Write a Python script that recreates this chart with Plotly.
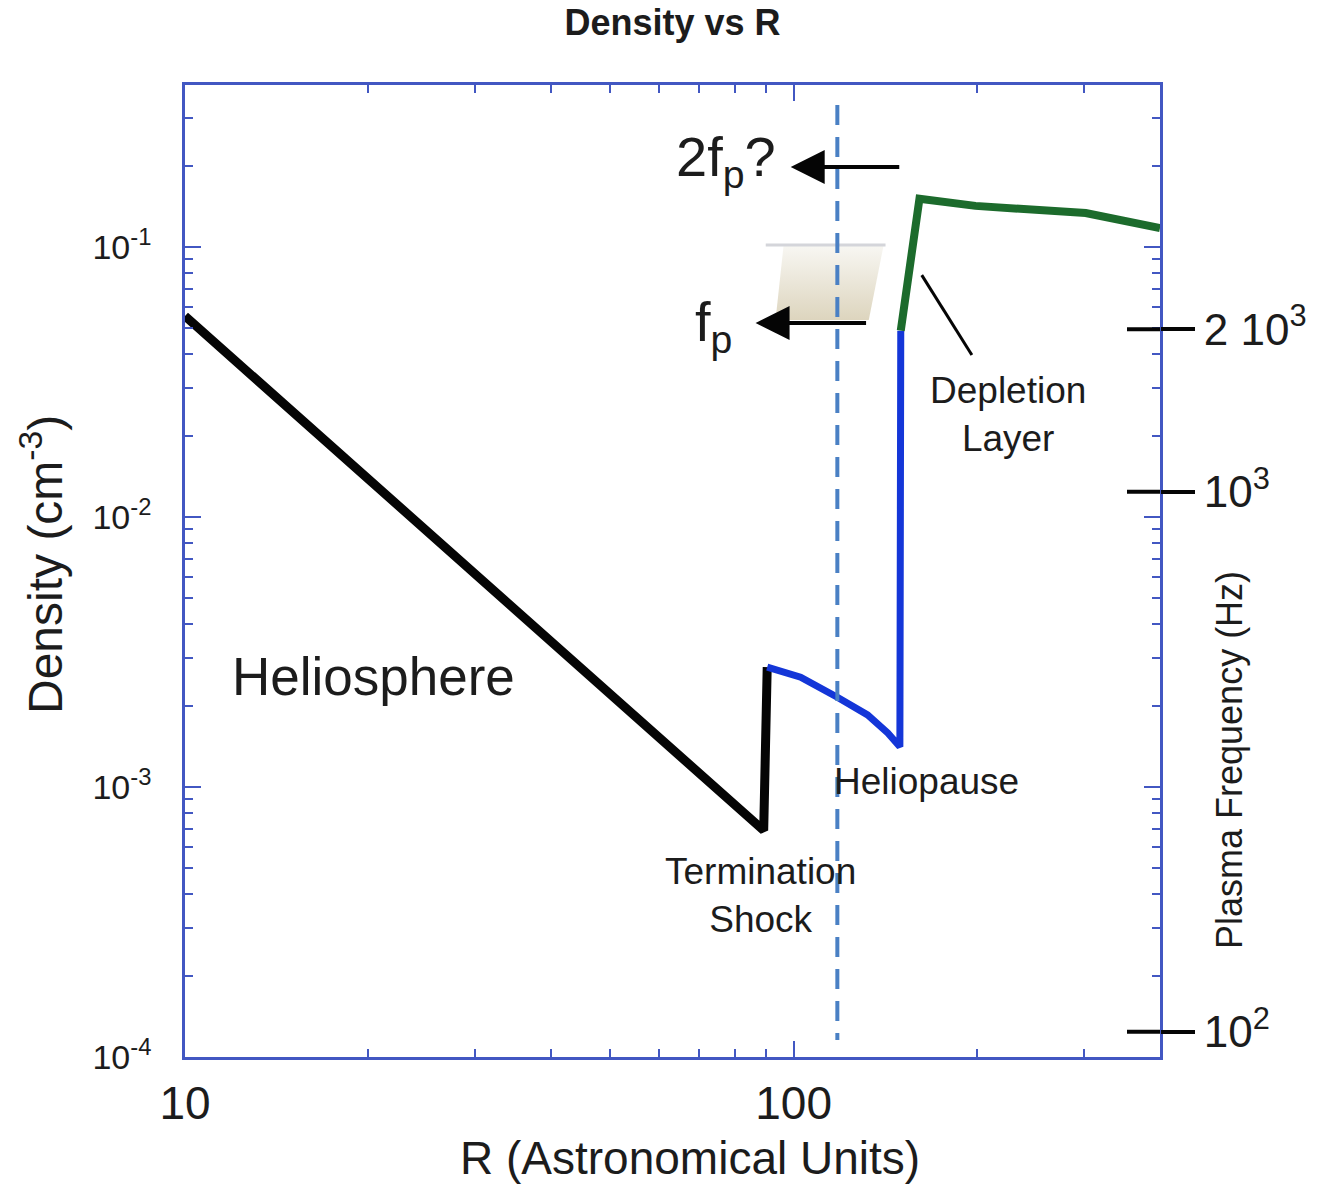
import numpy as np
import plotly.graph_objects as go

# ---- profile data: heliocentric distance (AU) vs electron density (cm^-3) ----
r_sw = [10, 89.3, 90.5]
n_sw = [0.0555, 6.9e-4, 2.78e-3]

r_sheath = [90.5, 102.7, 118.0, 132.3, 142.8, 149.5, 150.0]
n_sheath = [2.78e-3, 2.55e-3, 2.15e-3, 1.85e-3, 1.585e-3, 1.41e-3, 0.049]

r_lism = [150.0, 161.0, 199.0, 302.0, 400.0]
n_lism = [0.049, 0.151, 0.142, 0.1336, 0.1175]

# spacecraft distance marker
r_marker = 118.0
n_marker_span = [0.3357, 1.156e-4]

# emission band sketch (x: AU, y: cm^-3)
band_r = [96.3, 140.6, 132.9, 93.4, 96.3]
band_n = [0.1017, 0.1017, 0.0537, 0.0537, 0.1017]
band_edge_r = [90.0, 141.6]
band_edge_n = [0.1017, 0.1017]

# pointer for the depletion layer label
pointer_r = [162.4, 196.3]
pointer_n = [0.0787, 0.0398]

# arrows for emission frequencies: (head R, tail R, density)
arrow_2fp = (98.9, 150.0, 0.198)
arrow_fp = (86.6, 132.3, 0.0523)

# axis ticks
x_major = [10, 100]
x_major_text = ["10", "100"]
x_minor = [20, 30, 40, 50, 60, 70, 80, 90, 200, 300]
y_major = [1e-4, 1e-3, 1e-2, 1e-1]
y_major_text = ["10<sup>-4</sup>", "10<sup>-3</sup>", "10<sup>-2</sup>", "10<sup>-1</sup>"]
y_minor = [m * 10.0 ** e for e in (-4, -3, -2) for m in range(2, 10)] + [0.2, 0.3]

# plasma frequency f_p = C * sqrt(n), f in Hz, n in cm^-3
PLASMA_CONST = 8980.0
f_ticks = [100, 1000, 2000]
f_ticks_text = ["10<sup>2</sup>", "10<sup>3</sup>", "2 10<sup>3</sup>"]

x_range = [1.0, np.log10(400.0)]
y_range = [-4.0, -0.4]
y2_range = [np.log10(PLASMA_CONST) + 0.5 * y_range[0], np.log10(PLASMA_CONST) + 0.5 * y_range[1]]

FONT = "Liberation Sans, Arial, sans-serif"
AXIS_BLUE = "#4257c2"
TEXT = "#1c1c1c"

fig = go.Figure()

# emission band (soft gradient parallelogram)
fig.add_trace(go.Scatter(
    x=band_r, y=band_n, mode="lines", line=dict(width=0),
    fill="toself",
    fillgradient=dict(type="vertical",
                      colorscale=[[0, "rgb(221,213,190)"], [1, "rgb(248,247,243)"]]),
    hoverinfo="skip", showlegend=False))
fig.add_trace(go.Scatter(
    x=band_edge_r, y=band_edge_n, mode="lines",
    line=dict(color="#d4d5da", width=3), hoverinfo="skip", showlegend=False))

# density profile
fig.add_trace(go.Scatter(x=r_sw, y=n_sw, mode="lines",
                         line=dict(color="#050505", width=9), showlegend=False))
fig.add_trace(go.Scatter(x=r_sheath, y=n_sheath, mode="lines",
                         line=dict(color="#1436d8", width=7), showlegend=False))
fig.add_trace(go.Scatter(x=r_lism, y=n_lism, mode="lines",
                         line=dict(color="#1c6b2c", width=8), showlegend=False))

# spacecraft distance
fig.add_trace(go.Scatter(x=[r_marker, r_marker], y=n_marker_span, mode="lines",
                         line=dict(color="#4a80c4", width=4, dash="20px,12px"),
                         showlegend=False))

# depletion layer pointer
fig.add_trace(go.Scatter(x=pointer_r, y=pointer_n, mode="lines",
                         line=dict(color="#050505", width=3), showlegend=False))

# placeholder trace so the frequency axis is drawn
fig.add_trace(go.Scatter(x=[400, 400], y=[f_ticks[0], f_ticks[-1]], yaxis="y2",
                         mode="lines", line=dict(width=0), hoverinfo="skip",
                         showlegend=False))

lg = np.log10
annotations = []
for head, tail, dens in (arrow_2fp, arrow_fp):
    annotations.append(dict(
        x=lg(head), y=lg(dens), ax=lg(tail), ay=lg(dens),
        xref="x", yref="y", axref="x", ayref="y",
        text="", showarrow=True, arrowhead=2, arrowsize=1.7,
        arrowwidth=4, arrowcolor="#050505"))

annotations += [
    dict(x=1.9737, y=-0.678, xref="x", yref="y", xanchor="right", yanchor="middle",
         text="2f<sub>p</sub>?", showarrow=False, font=dict(size=56, color=TEXT, family=FONT)),
    dict(x=1.9013, y=-1.289, xref="x", yref="y", xanchor="right", yanchor="middle",
         text="f<sub>p</sub>", showarrow=False, font=dict(size=56, color=TEXT, family=FONT)),
    dict(x=1.074, y=-2.589, xref="x", yref="y", xanchor="left", yanchor="middle",
         text="Heliosphere", showarrow=False, font=dict(size=53, color=TEXT, family=FONT)),
    dict(x=1.9457, y=-3.40, xref="x", yref="y", xanchor="center", yanchor="middle",
         text="Termination<br>Shock", showarrow=False,
         font=dict(size=37, color=TEXT, family=FONT)),
    dict(x=2.2188, y=-2.978, xref="x", yref="y", xanchor="center", yanchor="middle",
         text="Heliopause", showarrow=False, font=dict(size=37, color=TEXT, family=FONT)),
    dict(x=2.352, y=-1.619, xref="x", yref="y", xanchor="center", yanchor="middle",
         text="Depletion<br>Layer", showarrow=False, font=dict(size=37, color=TEXT, family=FONT)),
    # axis titles
    dict(x=(690 - 185) / 975, y=-(1158 - 1057) / 972, xref="paper", yref="paper",
         xanchor="center", yanchor="middle", text="R (Astronomical Units)",
         showarrow=False, font=dict(size=46, color=TEXT, family=FONT)),
    dict(x=(42 - 185) / 975, y=(1057 - 565) / 972, xref="paper", yref="paper",
         xanchor="center", yanchor="middle", text="Density (cm<sup>-3</sup>)",
         textangle=-90, showarrow=False, font=dict(size=48, color=TEXT, family=FONT)),
    dict(x=(1229 - 185) / 975, y=(1057 - 760) / 972, xref="paper", yref="paper",
         xanchor="center", yanchor="middle", text="Plasma Frequency (Hz)",
         textangle=-90, showarrow=False, font=dict(size=36, color=TEXT, family=FONT)),
]

# inner halves of the frequency tick marks
shapes = []
for f in f_ticks:
    frac = (lg(f) - y2_range[0]) / (y2_range[1] - y2_range[0])
    shapes.append(dict(type="line", xref="paper", yref="paper",
                       x0=(1127 - 185) / 975, x1=1.0, y0=frac, y1=frac,
                       line=dict(color="#050505", width=4)))

fig.update_layout(
    width=1319, height=1187,
    margin=dict(l=185, r=159, t=85, b=130),
    paper_bgcolor="white", plot_bgcolor="white",
    font=dict(family=FONT, color=TEXT),
    title=dict(text="<b>Density vs R</b>", x=0.5, xref="paper", xanchor="center",
               y=1 - 22 / 1187, yref="container", yanchor="middle",
               font=dict(size=36, color=TEXT, family="Liberation Sans Narrow, " + FONT)),
    xaxis=dict(type="log", range=x_range, tickvals=x_major, ticktext=x_major_text,
               ticks="inside", ticklen=16, tickwidth=2, tickcolor=AXIS_BLUE,
               showline=True, linecolor=AXIS_BLUE, linewidth=2.5, mirror="ticks",
               showgrid=False, zeroline=False,
               tickfont=dict(size=46, color=TEXT, family=FONT), ticklabelstandoff=4,
               minor=dict(tickvals=x_minor, ticks="inside", ticklen=8, tickwidth=2,
                          tickcolor=AXIS_BLUE, showgrid=False)),
    yaxis=dict(type="log", range=y_range, tickvals=y_major, ticktext=y_major_text,
               ticks="inside", ticklen=16, tickwidth=2, tickcolor=AXIS_BLUE,
               showline=True, linecolor=AXIS_BLUE, linewidth=2.5, mirror="ticks",
               showgrid=False, zeroline=False,
               tickfont=dict(size=34, color=TEXT, family=FONT), ticklabelstandoff=24,
               minor=dict(tickvals=y_minor, ticks="inside", ticklen=8, tickwidth=2,
                          tickcolor=AXIS_BLUE, showgrid=False)),
    yaxis2=dict(type="log", range=y2_range, overlaying="y", side="right",
                tickvals=f_ticks, ticktext=f_ticks_text,
                ticks="outside", ticklen=34, tickwidth=4, tickcolor="#050505",
                showline=False, showgrid=False, zeroline=False,
                tickfont=dict(size=44, color=TEXT, family=FONT)),
    annotations=annotations,
    shapes=shapes,
)

fig.write_html("out.html")
